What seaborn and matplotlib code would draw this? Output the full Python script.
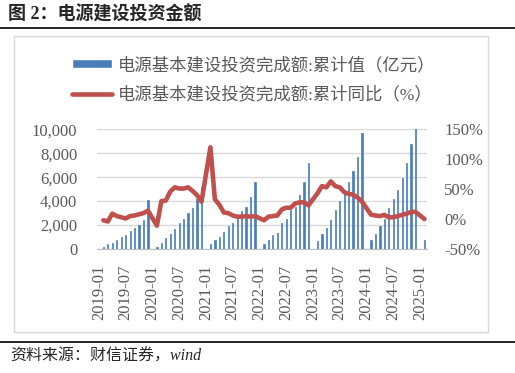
import numpy as np
import pandas as pd
import matplotlib.pyplot as plt
import seaborn as sns
from matplotlib.patches import Rectangle, Patch
from matplotlib.lines import Line2D

sns.set_style('white')
plt.rcParams['font.family'] = ['Liberation Serif', 'Noto Sans CJK SC']

nan = np.nan

# 电源基本建设投资完成额:累计值（亿元），1月无数据
invest_2019 = [nan, 200, 410, 540, 770, 1040, 1180, 1540, 1790, 2030, 2430, 4060]
invest_2020 = [nan, 170, 530, 900, 1270, 1660, 2160, 2540, 3000, 3420, 4170, 5200]
invest_2021 = [nan, 420, 770, 1030, 1410, 1940, 2160, 2650, 3150, 3530, 4310, 5560]
invest_2022 = [nan, 390, 760, 1150, 1370, 2160, 2520, 3220, 3500, 4540, 5570, 7200]
invest_2023 = [nan, 640, 1260, 1790, 2440, 3280, 4030, 4820, 5570, 6550, 7700, 9700]
invest_2024 = [nan, 760, 1260, 1930, 2520, 3420, 4170, 4960, 5940, 7200, 8740, 11000]
invest_2025 = [nan, 760]

# 累计同比（%）
yoy_2019 = [nan, -2, -4, 9, 5, 3, 1, 5, 6, 8, 10, 14]
yoy_2020 = [nan, -11, 30, 31, 46, 53, 51, 51, 53, 47, 40, 29]
yoy_2021 = [nan, 120, 33, 24, 11, 10, 6, 4, 4, 5, 4, 5]
yoy_2022 = [nan, -2, 4, 5, 6, 16, 19, 19, 26, 28, 28, 23]
yoy_2023 = [nan, 43, 55, 53, 63, 55, 53, 45, 42, 41, 36, 29]
yoy_2024 = [nan, 7.5, 6, 5, 7, 3, 3, 5, 7, 9, 12, 12]
yoy_2025 = [nan, 0]

months = [f'{y}-{m:02d}' for y in range(2019, 2026) for m in range(1, 13)][:74]
value = np.concatenate([invest_2019, invest_2020, invest_2021, invest_2022,
                        invest_2023, invest_2024, invest_2025])
yoy = np.concatenate([yoy_2019, yoy_2020, yoy_2021, yoy_2022,
                      yoy_2023, yoy_2024, yoy_2025])
df = pd.DataFrame({'month': months, 'pos': np.arange(len(months)),
                   'value': value, 'yoy': yoy})

BLUE = '#4a7ebb'
RED = '#c0504d'
GRAY = '#595959'

fig = plt.figure(figsize=(5.15, 3.73), dpi=100)
ax = fig.add_axes([96.7 / 515, 1 - 249 / 373, 330 / 515, 119.7 / 373])

sns.barplot(data=df, x='month', y='value', order=months, color=BLUE,
            saturation=1, width=0.28, errorbar=None, ax=ax,
            edgecolor=BLUE, linewidth=0.5)
ax.set_ylim(0, 10000)
ax.set_yticks(range(0, 10001, 2000))
ax.set_yticklabels([f'{v:,}' for v in range(0, 10001, 2000)])
ax.yaxis.grid(True, color='#d9d9d9', lw=1)
ax.set_axisbelow(True)
for s in ['top', 'left', 'right']:
    ax.spines[s].set_visible(False)
ax.spines['bottom'].set_color('#bfbfbf')
ax.set_xticks(range(0, 74, 6))
ax.set_xticklabels([months[i] for i in range(0, 74, 6)], rotation=90)
ax.set_xticks(list(np.arange(-0.5, 73, 6)) + [73.5], minor=True)
ax.tick_params(axis='x', which='major', length=0, pad=11, labelsize=12, labelcolor=GRAY)
ax.tick_params(axis='x', which='minor', length=5, color='#bfbfbf', width=1)
ax.tick_params(axis='y', length=0, pad=14, labelsize=12, labelcolor=GRAY)
ax.set_xlabel('')
ax.set_ylabel('')

ax2 = ax.twinx()
sns.lineplot(data=df.dropna(subset=['yoy']), x='pos', y='yoy', color=RED,
             lw=3.3, ax=ax2, solid_capstyle='round', solid_joinstyle='round')
ax2.set_ylim(-50, 150)
ax2.set_yticks(range(-50, 151, 50))
ax2.set_yticklabels([f'{v}%' for v in range(-50, 151, 50)])
ax2.tick_params(axis='y', length=0, pad=12.7, labelsize=12, labelcolor=GRAY)
for s in ax2.spines.values():
    s.set_visible(False)
ax2.set_ylabel('')
ax.set_xlim(-0.5, 73.5)

handles = [Patch(facecolor=BLUE), Line2D([], [], color=RED, lw=3.3)]
labels = ['电源基本建设投资完成额:累计值（亿元）', '电源基本建设投资完成额:累计同比（%）']
fig.legend(handles, labels, loc='center left', bbox_to_anchor=(72 / 515, 1 - 80.5 / 373),
           frameon=False, fontsize=12.5, labelcolor=GRAY, handlelength=2.3,
           handleheight=0.45, handletextpad=0.35, labelspacing=0.75,
           borderpad=0, borderaxespad=0)

fig.add_artist(Rectangle((14 / 515, 1 - 332 / 373), 474 / 515, 296 / 373,
                         transform=fig.transFigure, fill=False, ec='#d9d9d9', lw=1))
fig.add_artist(Line2D([0, 1], [1 - 28 / 373] * 2, color='black', lw=1.2))
fig.add_artist(Line2D([0, 1], [1 - 342 / 373] * 2, color='black', lw=1.2))
fig.text(8 / 515, 1 - 14 / 373, '图 2：电源建设投资金额', fontsize=13,
         fontweight='bold', va='center', ha='left')
fig.text(10 / 515, 1 - 357 / 373, '资料来源：财信证券，wind', fontsize=11.5,
         style='italic', va='center', ha='left')

fig.savefig('out.png', dpi=100)
